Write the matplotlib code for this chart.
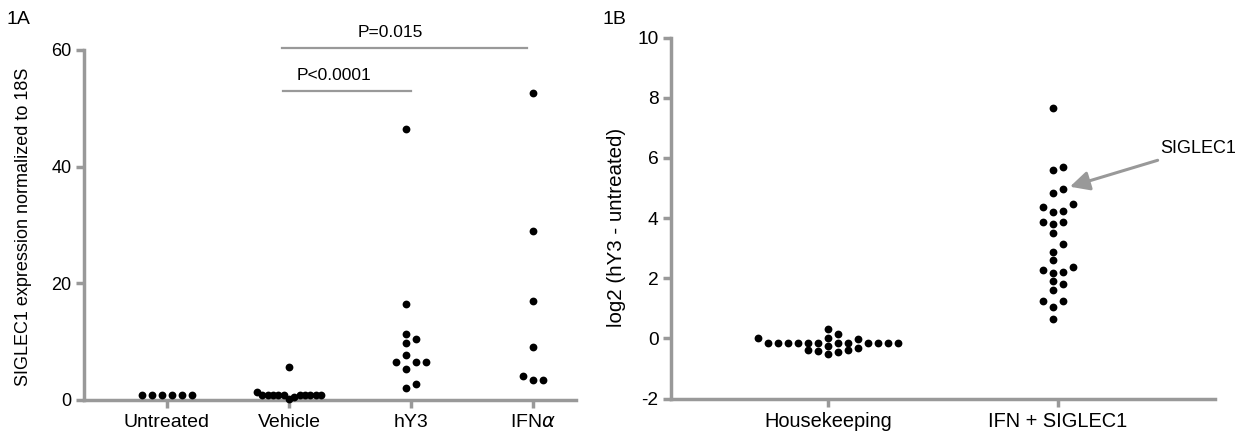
import numpy as np
import matplotlib
matplotlib.use("Agg")
import matplotlib.pyplot as plt

plt.rcParams["font.family"] = ["Liberation Sans", "DejaVu Sans"]
plt.rcParams["mathtext.fontset"] = "dejavusans"
plt.rcParams["axes.unicode_minus"] = False

# === Data: panel 1A ===
groups_a = ["Untreated", "Vehicle", "hY3", r"IFN$\alpha$"]
untreated = [0.85, 0.85, 0.85, 0.85, 0.85, 0.85]
vehicle = [5.6, 0.85, 0.85, 0.85, 0.85, 0.85, 0.85, 0.85, 0.85, 0.85, 0.85, 1.3, 0.5, 0.15]
hy3 = [46.4, 16.4, 11.3, 10.5, 9.8, 7.7, 6.5, 6.5, 6.5, 5.4, 2.8, 2.0]
ifna = [52.7, 28.9, 16.9, 9.1, 4.2, 3.5, 3.5]
yticks_a = [0, 20, 40, 60]

# === Data: panel 1B ===
groups_b = ["Housekeeping", "IFN + SIGLEC1"]
housekeeping = [-0.14] * 12 + [0.0, -0.03, 0.0, 0.14, 0.31, -0.25, -0.39, -0.42, -0.52, -0.44, -0.39, -0.33]
ifn_siglec1 = [7.67, 5.61, 5.68, 4.95, 4.82, 4.23, 4.37, 4.45, 4.21, 3.87, 3.80, 3.87, 3.49,
               3.12, 2.88, 2.60, 2.38, 2.21, 2.18, 2.27, 1.90, 1.79, 1.60, 1.25, 1.25, 1.03, 0.64]
yticks_b = [-2, 0, 2, 4, 6, 8, 10]

GRAY = "#999999"
DOT_PX = 7.8     # marker diameter, px
COL_W = 10.0     # column step of the scatter, px
ROW_H = 7.5      # min vertical gap inside one column, px


def column_offsets(ypx):
    # prism-like column scatter: each point goes to the nearest free column
    order = np.argsort(ypx, kind="stable")
    pref = [0] + [s * k for k in range(1, 100) for s in (1, -1)]
    cols = {}
    idx = np.zeros(len(ypx))
    for i in order:
        for c in pref:
            if all(abs(ypx[i] - yy) >= ROW_H for yy in cols.get(c, [])):
                cols.setdefault(c, []).append(ypx[i])
                idx[i] = c
                break
    off = idx * COL_W
    return off - (off.max() + off.min()) / 2


def draw_column(ax, pos, vals, cap_px):
    vals = np.asarray(vals, float)
    pts = ax.transData.transform(np.c_[np.full(len(vals), pos), vals])
    off = column_offsets(pts[:, 1])
    m = np.abs(off).max()
    if m > cap_px:
        off *= cap_px / m
    px_per_unit = ax.transData.transform((1, 0))[0] - ax.transData.transform((0, 0))[0]
    s = (DOT_PX * 72 / fig.dpi) ** 2
    ax.scatter(pos + off / px_per_unit, vals, s=s, color="black", linewidths=0,
               zorder=5, clip_on=False)


def style_axes(ax, fsx, fsy):
    for side in ["top", "right"]:
        ax.spines[side].set_visible(False)
    for side in ["left", "bottom"]:
        ax.spines[side].set_color(GRAY)
        ax.spines[side].set_linewidth(2.5)
    ax.tick_params(axis="both", colors=GRAY, width=2.5, length=6, labelcolor="black")
    ax.tick_params(axis="x", pad=4, labelsize=fsx)
    ax.tick_params(axis="y", pad=3, labelsize=fsy)


fig = plt.figure(figsize=(12.44, 4.38), dpi=100)
W, H = 1244, 438

# --- Panel 1A ---
ax1 = fig.add_axes([84 / W, 1 - 400 / H, (576 - 84) / W, (400 - 50) / H])
ax1.set_xlim(-0.68, 3.352)
ax1.set_ylim(0, 60)
style_axes(ax1, 14, 13)
ax1.set_xticks(range(len(groups_a)))
ax1.set_xticklabels(groups_a)
ax1.set_yticks(yticks_a)
ax1.set_ylabel("SIGLEC1 expression normalized to 18S", fontsize=13)
ax1.yaxis.set_label_coords(-0.106, 0.494)

for i, vals in enumerate([untreated, vehicle, hy3, ifna]):
    draw_column(ax1, i, vals, cap_px=32)

# significance bars
ax1.plot([0.94, 2.95], [60.3, 60.3], color=GRAY, lw=1.6, clip_on=False)
ax1.text(1.83, 63.0, "P=0.015", ha="center", va="center", fontsize=12.5)
ax1.plot([0.95, 2.0], [53.0, 53.0], color=GRAY, lw=1.6, clip_on=False)
ax1.text(1.37, 55.6, "P<0.0001", ha="center", va="center", fontsize=12.5)

# --- Panel 1B ---
ax2 = fig.add_axes([671 / W, 1 - 398.5 / H, (1215 - 671) / W, (398.5 - 37.5) / H])
ax2.set_xlim(-0.683, 1.683)
ax2.set_ylim(-2, 10)
style_axes(ax2, 14.4, 13.8)
ax2.set_xticks(range(len(groups_b)))
ax2.set_xticklabels(groups_b)
ax2.set_yticks(yticks_b)
ax2.set_ylabel("log2 (hY3 - untreated)", fontsize=14.8)
ax2.yaxis.set_label_coords(-0.083, 0.474)

draw_column(ax2, 0, housekeeping, cap_px=80)
draw_column(ax2, 1, ifn_siglec1, cap_px=80)

ax2.annotate("SIGLEC1", xy=(1.052, 5.04), xytext=(1.443, 6.32),
             ha="left", va="center", fontsize=13,
             arrowprops=dict(arrowstyle="-|>,head_length=0.9,head_width=0.45",
                             color=GRAY, lw=2.2, shrinkA=2, shrinkB=0))

fig.text(7 / W, 1 - 20 / H, "1A", fontsize=14, va="center", ha="left")
fig.text(603 / W, 1 - 20 / H, "1B", fontsize=14, va="center", ha="left")

fig.savefig("out.png", dpi=100)
